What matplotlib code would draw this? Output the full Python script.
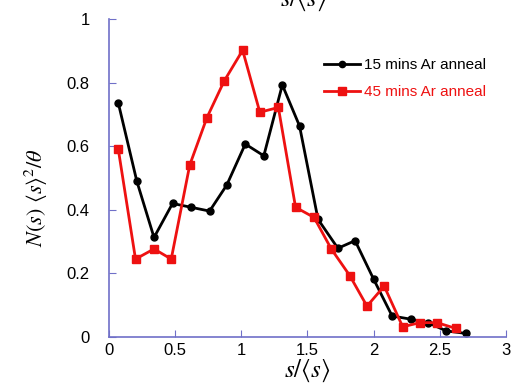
import numpy as np
import matplotlib
matplotlib.use('Agg')
import matplotlib.pyplot as plt

plt.rcParams['font.family'] = ['Liberation Sans', 'DejaVu Sans']
plt.rcParams['mathtext.fontset'] = 'stix'

# --- data ---
x_15 = [0.07, 0.21, 0.34, 0.48, 0.62, 0.76, 0.89, 1.03, 1.17, 1.31,
        1.44, 1.58, 1.73, 1.86, 2.00, 2.14, 2.28, 2.41, 2.55, 2.70]
y_15 = [0.736, 0.49, 0.313, 0.42, 0.408, 0.396, 0.478, 0.607, 0.57, 0.793,
        0.664, 0.37, 0.279, 0.303, 0.182, 0.066, 0.056, 0.045, 0.019, 0.011]

x_45 = [0.07, 0.20, 0.34, 0.47, 0.61, 0.74, 0.87, 1.01, 1.14, 1.28,
        1.41, 1.55, 1.68, 1.82, 1.95, 2.08, 2.22, 2.35, 2.48, 2.62]
y_45 = [0.59, 0.245, 0.277, 0.245, 0.541, 0.69, 0.805, 0.902, 0.707, 0.722,
        0.408, 0.376, 0.277, 0.193, 0.097, 0.16, 0.032, 0.045, 0.045, 0.027]

labels = ['15 mins Ar anneal', '45 mins Ar anneal']
x_ticks = [0, 0.5, 1, 1.5, 2, 2.5, 3]
y_ticks = [0, 0.2, 0.4, 0.6, 0.8, 1]

spine_col = '#7070c8'
red = '#ee1111'

fig = plt.figure(figsize=(5.12, 3.90), dpi=100)
ax = fig.add_axes([0.213, 0.136, 0.775, 0.815])

ax.plot(x_15, y_15, color='black', marker='o', markersize=5, linewidth=2,
        label=labels[0])
ax.plot(x_45, y_45, color=red, marker='s', markersize=6, linewidth=2,
        label=labels[1])

ax.set_xlim(0, 3)
ax.set_ylim(0, 1)
ax.set_xticks(x_ticks)
ax.set_yticks(y_ticks)
ax.set_xticklabels(['%g' % t for t in x_ticks])
ax.set_yticklabels(['%g' % t for t in y_ticks])
ax.tick_params(direction='in', length=5, color=spine_col, labelsize=12)
ax.tick_params(axis='x', pad=4)
ax.tick_params(axis='y', pad=14)

for side in ['top', 'right']:
    ax.spines[side].set_visible(False)
for side in ['left', 'bottom']:
    ax.spines[side].set_color(spine_col)
    ax.spines[side].set_linewidth(1.2)

ax.set_xlabel(r'$s/\langle s\rangle$', fontsize=18, labelpad=0)
ax.set_ylabel(r'$N(s)\ \langle s\rangle^2/\theta$', fontsize=16)
ax.yaxis.set_label_coords(-0.15, 0.44)

# cropped copy of the axis label at the very top
fig.text(303 / 512, 1.0, r'$s/\langle s\rangle$', fontsize=18,
         ha='center', va='center')

leg = ax.legend(loc='upper right', bbox_to_anchor=(0.985, 0.92), frameon=False,
                fontsize=11, handlelength=2.3, handletextpad=0.3,
                labelspacing=0.85, markerscale=0.9)
for txt, col in zip(leg.get_texts(), ['black', red]):
    txt.set_color(col)

fig.savefig('out.png', dpi=100)
